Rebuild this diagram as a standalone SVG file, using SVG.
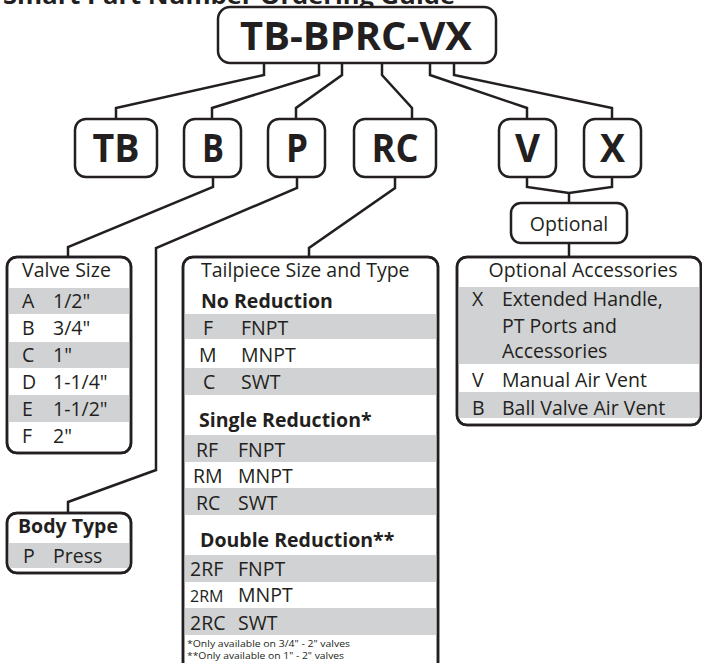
<svg xmlns="http://www.w3.org/2000/svg" width="702" height="663" viewBox="0 0 702 663">
<style>
.box{fill:#fff;stroke:#231f20;stroke-width:2.5}
.ln{fill:none;stroke:#231f20;stroke-width:2.5;stroke-linejoin:miter}
.g{fill:#d1d2d4}
text{font-family:"Open Sans","Noto Sans","DejaVu Sans",sans-serif;fill:#231f20}
.big{font-size:40px;font-weight:700;text-anchor:middle}
.hd{font-size:19.5px}
.b{font-weight:700}
.t{font-size:19.5px}
.fn{font-size:8.5px}
</style>
<defs>
<clipPath id="cvs"><rect x="7" y="257" width="124" height="196" rx="10"/></clipPath>
<clipPath id="cbt"><rect x="7" y="513" width="124" height="60" rx="10"/></clipPath>
<clipPath id="ctp"><rect x="183" y="257" width="255" height="420" rx="10"/></clipPath>
<clipPath id="coa"><rect x="457" y="257" width="244" height="168" rx="10"/></clipPath>
</defs>
<rect width="702" height="663" fill="#fff"/>
<text x="3" y="4" font-size="24" font-weight="700" textLength="452" lengthAdjust="spacingAndGlyphs">Smart Part Number Ordering Guide</text>

<g id="connectors">
<polyline class="ln" points="264,63 264,75 116,108 116,119"/>
<polyline class="ln" points="319,63 319,75 212,108 212,119"/>
<polyline class="ln" points="342,63 342,75 296,108 296,119"/>
<polyline class="ln" points="382,63 382,75 412,108 412,119"/>
<polyline class="ln" points="430,63 430,75 527,108 527,119"/>
<polyline class="ln" points="454,63 454,75 612,108 612,119"/>
<polyline class="ln" points="213,177 213,187 68,247 68,257"/>
<polyline class="ln" points="297,177 297,188 156,248 156,470 68,502 68,513"/>
<polyline class="ln" points="395,177 395,188 309,248 309,257"/>
<polyline class="ln" points="527,177 527,187 569,193 612,187 612,177"/>
<polyline class="ln" points="569,193 569,203"/>
<polyline class="ln" points="569,243 569,257"/>
</g>

<g id="main">
<rect class="box" x="218" y="7" width="278" height="56" rx="12"/>
<text class="big" x="356" y="50" textLength="232" lengthAdjust="spacingAndGlyphs">TB-BPRC-VX</text>
</g>

<g id="n-tb"><rect class="box" x="75" y="119" width="82" height="58" rx="11"/><text class="big" x="116" y="162" textLength="47" lengthAdjust="spacingAndGlyphs">TB</text></g>
<g id="n-b"><rect class="box" x="184" y="119" width="57" height="58" rx="11"/><text class="big" x="213" y="162" textLength="22" lengthAdjust="spacingAndGlyphs">B</text></g>
<g id="n-p"><rect class="box" x="268" y="119" width="57" height="58" rx="11"/><text class="big" x="297" y="162" textLength="22" lengthAdjust="spacingAndGlyphs">P</text></g>
<g id="n-rc"><rect class="box" x="354" y="119" width="82" height="58" rx="11"/><text class="big" x="395" y="162" textLength="47" lengthAdjust="spacingAndGlyphs">RC</text></g>
<g id="n-v"><rect class="box" x="499" y="119" width="57" height="58" rx="11"/><text class="big" x="527.5" y="162" textLength="25" lengthAdjust="spacingAndGlyphs">V</text></g>
<g id="n-x"><rect class="box" x="584" y="119" width="57" height="58" rx="11"/><text class="big" x="612.5" y="162" textLength="25" lengthAdjust="spacingAndGlyphs">X</text></g>

<g id="optional">
<rect class="box" x="511" y="203" width="116" height="40" rx="10"/>
<text class="t" x="569" y="231" text-anchor="middle">Optional</text>
</g>

<g id="valve-size">
<rect class="box" x="7" y="257" width="124" height="196" rx="10"/>
<g clip-path="url(#cvs)">
<rect class="g" x="7" y="288" width="124" height="26"/>
<rect class="g" x="7" y="342" width="124" height="26"/>
<rect class="g" x="7" y="395" width="124" height="27"/>
</g>
<rect x="7" y="257" width="124" height="196" rx="10" fill="none" stroke="#231f20" stroke-width="2.5"/>
<text class="hd" x="22" y="277">Valve Size</text>
<text class="t" x="22" y="308">A</text><text class="t" x="53" y="308">1/2"</text>
<text class="t" x="22" y="335">B</text><text class="t" x="53" y="335">3/4"</text>
<text class="t" x="22" y="362">C</text><text class="t" x="53" y="362">1"</text>
<text class="t" x="22" y="389">D</text><text class="t" x="53" y="389">1-1/4"</text>
<text class="t" x="22" y="416">E</text><text class="t" x="53" y="416">1-1/2"</text>
<text class="t" x="22" y="443">F</text><text class="t" x="53" y="443">2"</text>
</g>

<g id="body-type">
<rect class="box" x="7" y="513" width="124" height="60" rx="10"/>
<g clip-path="url(#cbt)"><rect class="g" x="7" y="543" width="124" height="25"/></g>
<rect x="7" y="513" width="124" height="60" rx="10" fill="none" stroke="#231f20" stroke-width="2.5"/>
<text class="hd b" x="18" y="533">Body Type</text>
<text class="t" x="23" y="563">P</text><text class="t" x="53" y="563">Press</text>
</g>

<g id="tailpiece">
<rect class="box" x="183" y="257" width="255" height="420" rx="10"/>
<g clip-path="url(#ctp)">
<rect class="g" x="183" y="314" width="255" height="25"/>
<rect class="g" x="183" y="368" width="255" height="27"/>
<rect class="g" x="183" y="435" width="255" height="27"/>
<rect class="g" x="183" y="488" width="255" height="27"/>
<rect class="g" x="183" y="555" width="255" height="27"/>
<rect class="g" x="183" y="608" width="255" height="27"/>
</g>
<rect x="183" y="257" width="255" height="420" rx="10" fill="none" stroke="#231f20" stroke-width="2.5"/>
<text class="hd" x="201" y="277">Tailpiece Size and Type</text>
<text class="hd b" x="201" y="308">No Reduction</text>
<text class="t" x="203" y="335">F</text><text class="t" x="241" y="335">FNPT</text>
<text class="t" x="199" y="362">M</text><text class="t" x="241" y="362">MNPT</text>
<text class="t" x="203" y="389">C</text><text class="t" x="241" y="389">SWT</text>
<text class="hd b" x="199" y="427">Single Reduction*</text>
<text class="t" x="196" y="457">RF</text><text class="t" x="238" y="457">FNPT</text>
<text class="t" x="193" y="483">RM</text><text class="t" x="238" y="483">MNPT</text>
<text class="t" x="196" y="510">RC</text><text class="t" x="238" y="510">SWT</text>
<text class="hd b" x="200" y="547">Double Reduction**</text>
<text class="t" x="190" y="576">2RF</text><text class="t" x="238" y="576">FNPT</text>
<text x="190" y="602" font-size="16">2RM</text><text class="t" x="238" y="602">MNPT</text>
<text class="t" x="190" y="630">2RC</text><text class="t" x="238" y="630">SWT</text>
<text class="fn" x="187" y="647" textLength="163" lengthAdjust="spacingAndGlyphs">*Only available on 3/4" - 2" valves</text>
<text class="fn" x="187" y="659" textLength="157" lengthAdjust="spacingAndGlyphs">**Only available on 1" - 2" valves</text>
</g>

<g id="optional-accessories">
<rect class="box" x="457" y="257" width="244" height="168" rx="10"/>
<g clip-path="url(#coa)">
<rect class="g" x="457" y="287" width="244" height="77"/>
<rect class="g" x="457" y="392" width="244" height="26"/>
</g>
<rect x="457" y="257" width="244" height="168" rx="10" fill="none" stroke="#231f20" stroke-width="2.5"/>
<text class="hd" x="583" y="277" text-anchor="middle">Optional Accessories</text>
<text class="t" x="472" y="306">X</text><text class="t" x="502" y="306">Extended Handle,</text>
<text class="t" x="502" y="333">PT Ports and</text>
<text class="t" x="502" y="358">Accessories</text>
<text class="t" x="472" y="387">V</text><text class="t" x="502" y="387">Manual Air Vent</text>
<text class="t" x="472" y="415">B</text><text class="t" x="502" y="415">Ball Valve Air Vent</text>
</g>
</svg>
